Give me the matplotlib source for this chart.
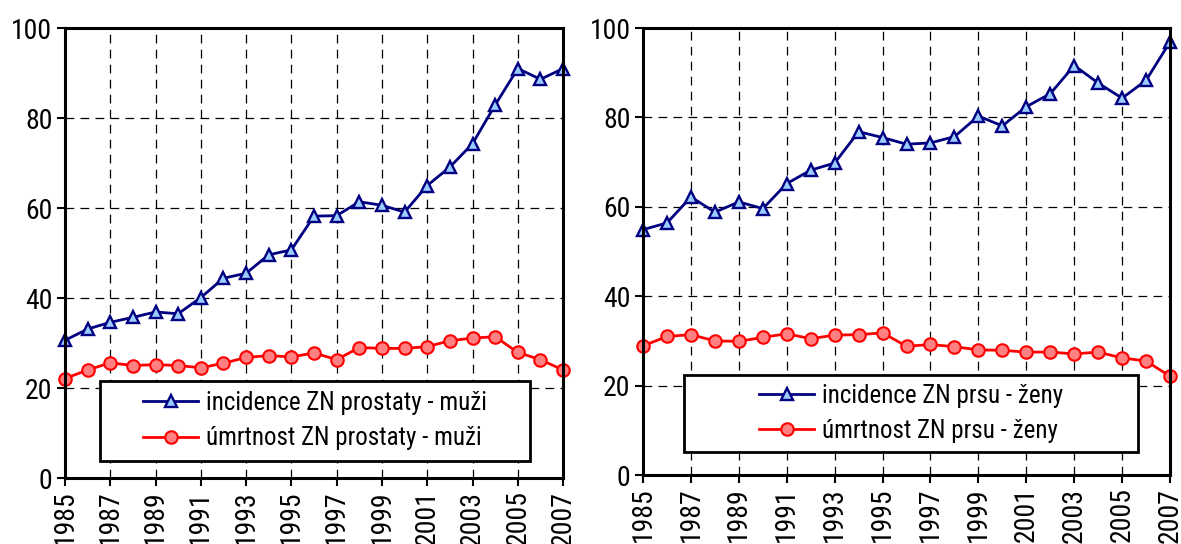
import numpy as np
import matplotlib.pyplot as plt
from matplotlib.patches import Rectangle

plt.rcParams['font.family'] = ['Roboto Condensed', 'Liberation Sans Narrow', 'Liberation Sans', 'DejaVu Sans']

roky = list(range(1985, 2008))

# prostata - muzi
incidence_prostata = [30.6, 33.1, 34.6, 35.7, 36.9, 36.5, 40.1, 44.4, 45.5, 49.6, 50.7,
                      58.2, 58.3, 61.4, 60.6, 59.1, 65.0, 69.1, 74.3, 82.9, 91.0, 88.6, 91.0]
umrtnost_prostata = [22.1, 24.0, 25.6, 25.0, 25.2, 25.0, 24.5, 25.5, 26.8, 27.2, 26.9,
                     27.8, 26.3, 29.0, 28.8, 28.8, 29.2, 30.5, 31.1, 31.4, 27.9, 26.3, 24.0]

# prs - zeny
incidence_prs = [54.9, 56.4, 62.2, 58.8, 61.1, 59.6, 65.2, 68.2, 69.8, 76.8, 75.5,
                 74.0, 74.3, 75.7, 80.3, 78.1, 82.4, 85.3, 91.6, 87.7, 84.3, 88.3, 96.9]
umrtnost_prs = [28.9, 31.0, 31.4, 30.0, 29.9, 30.8, 31.6, 30.5, 31.3, 31.4, 31.8,
                28.8, 29.2, 28.7, 28.0, 27.9, 27.5, 27.5, 27.1, 27.5, 26.2, 25.5, 22.1]

popisky = [['incidence ZN prostaty - muži', 'úmrtnost ZN prostaty - muži'],
           ['incidence ZN prsu - ženy', 'úmrtnost ZN prsu - ženy']]

fig = plt.figure(figsize=(11.81, 5.44), dpi=100)
ax1 = fig.add_axes([0.0550, 0.1213, 0.4218, 0.8272])
ax2 = fig.add_axes([0.5445, 0.1268, 0.4462, 0.8217])

# pozice legendy (x0, y0, x1, y1) v souradnicich os
boxy = [(0.070, 0.038, 0.934, 0.216), (0.078, 0.051, 0.940, 0.224)]

for ax, inc, umr, lab, box in zip([ax1, ax2], [incidence_prostata, incidence_prs],
                                  [umrtnost_prostata, umrtnost_prs], popisky, boxy):
    ax.plot(roky, inc, color='#000080', lw=2.0, marker='^', ms=9,
            mfc='#99CCFF', mec='#000080', mew=1.7, clip_on=False, zorder=4, label=lab[0])
    ax.plot(roky, umr, color='#FF0000', lw=2.0, marker='o', ms=9,
            mfc='#FF8080', mec='#FF0000', mew=1.5, clip_on=False, zorder=4, label=lab[1])

    ax.set_xlim(1985, 2007)
    ax.set_ylim(0, 100)
    ax.set_xticks(range(1985, 2008, 2))
    ax.set_xticklabels([str(r) for r in range(1985, 2008, 2)], rotation=90)
    ax.set_yticks(range(0, 101, 20))
    ax.tick_params(axis='both', labelsize=20, direction='out', length=6, width=1.5, pad=3)
    ax.grid(True, color='black', linestyle=(0, (7, 5)), linewidth=0.9)
    for s in ax.spines.values():
        s.set_linewidth(2.2)
        s.set_zorder(5)

    # ramecek legendy
    x0, y0, x1, y1 = box
    ax.add_patch(Rectangle((x0, y0), x1 - x0, y1 - y0, transform=ax.transAxes,
                           facecolor='white', edgecolor='black', lw=2, zorder=6))
    leg = ax.legend(loc='center', bbox_to_anchor=(x0, y0, x1 - x0, y1 - y0),
                    bbox_transform=ax.transAxes, frameon=False, fontsize=18,
                    handlelength=2.2, handletextpad=0.3, labelspacing=0.45,
                    borderpad=0.2)
    leg.set_zorder(7)

fig.savefig('out.png', dpi=100)
